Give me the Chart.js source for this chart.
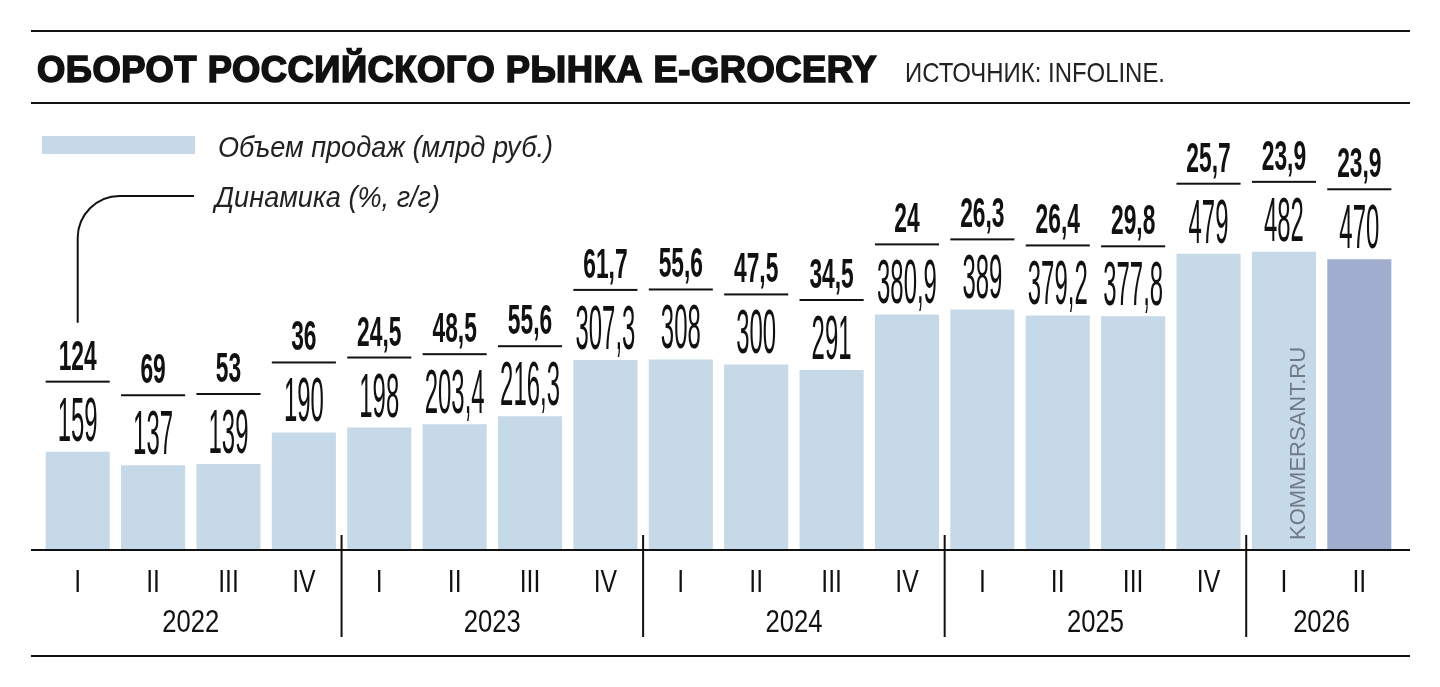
<!DOCTYPE html>
<html lang="ru">
<head>
<meta charset="UTF-8">
<title>Оборот российского рынка e-grocery</title>
<script src="https://cdn.jsdelivr.net/npm/chart.js@4.4.0/dist/chart.umd.min.js"></script>
<style>
  body { margin: 0; width: 1440px; height: 687px; overflow: hidden; position: relative; background: #fff;
         font-family: "Liberation Sans", Arial, sans-serif; color: #111; }
  #chart { position: absolute; left: 0; top: 0; }
  .rule { position: absolute; left: 31px; width: 1379px; height: 2px; background: #111; }
  .txt { position: absolute; white-space: nowrap; line-height: 1; transform-origin: 0 0; }
  #title { left: 37px; top: 52px; font-size: 36px; font-weight: 700; -webkit-text-stroke: 1.6px #111; letter-spacing: 0.5px; }
  #source { left: 905px; top: 59px; font-size: 28px; color: #222; }
  .legend { font-style: italic; font-size: 30px; color: #222; }
  #swatch { position: absolute; left: 42px; top: 136px; width: 153px; height: 18px; background: #c5d9e8; }
</style>
</head>
<body>
  <canvas id="chart" width="1440" height="687"></canvas>
  <div class="rule" style="top:30px"></div>
  <div class="rule" style="top:102px"></div>
  <div class="rule" style="top:655px"></div>
  <div id="title" class="txt" data-w="840">ОБОРОТ РОССИЙСКОГО РЫНКА E-GROCERY</div>
  <div id="source" class="txt" data-w="260">ИСТОЧНИК: INFOLINE.</div>
  <div id="swatch"></div>
  <div class="txt legend" style="left:218px; top:132px" data-w="335">Объем продаж (млрд руб.)</div>
  <div class="txt legend" style="left:215px; top:182px" data-w="225">Динамика (%, г/г)</div>

<script>
  // данные
  const quarters = ['I', 'II', 'III', 'IV', 'I', 'II', 'III', 'IV', 'I', 'II', 'III', 'IV', 'I', 'II', 'III', 'IV', 'I', 'II']
  const years = ['2022', '2022', '2022', '2022', '2023', '2023', '2023', '2023', '2024', '2024', '2024', '2024',
                 '2025', '2025', '2025', '2025', '2026', '2026']
  const sales = [159, 137, 139, 190, 198, 203.4, 216.3, 307.3, 308, 300, 291, 380.9, 389, 379.2, 377.8, 479, 482, 470]
  const growth = [124, 69, 53, 36, 24.5, 48.5, 55.6, 61.7, 55.6, 47.5, 34.5, 24, 26.3, 26.4, 29.8, 25.7, 23.9, 23.9]

  const LIGHT = '#c5d9e8'
  const DARK = '#a1aecf'
  const FONT = '"Liberation Sans", Arial, sans-serif'

  // сжатие текста по ширине
  document.querySelectorAll('.txt[data-w]').forEach(el => {
    const w = el.getBoundingClientRect().width
    el.style.transform = 'scaleX(' + (el.dataset.w / w) + ')'
  })

  const fmt = v => String(v).replace('.', ',')

  function narrowText(ctx, text, x, y, font, sx, align) {
    ctx.save()
    ctx.translate(x, y)
    ctx.scale(sx, 1)
    ctx.font = font
    ctx.textAlign = align || 'center'
    ctx.textBaseline = 'alphabetic'
    ctx.fillText(text, 0, 0)
    ctx.restore()
  }

  const labelsPlugin = {
    id: 'labels',
    afterDatasetsDraw(chart) {
      const ctx = chart.ctx
      const xs = chart.scales.x
      const ys = chart.scales.y
      const base = ys.getPixelForValue(0)
      const bars = chart.getDatasetMeta(0).data

      ctx.save()
      ctx.fillStyle = '#111'

      // подписи над столбцами
      bars.forEach((bar, i) => {
        const top = bar.y
        narrowText(ctx, fmt(sales[i]), bar.x, top - 11, '400 63px ' + FONT, 0.38)
        ctx.fillRect(bar.x - bar.width / 2, top - 71, bar.width, 2)
        narrowText(ctx, fmt(growth[i]), bar.x, top - 82, '700 43px ' + FONT, 0.53)
      })

      // выноска к легенде
      const b0 = bars[0]
      const lineTop = b0.y - 82 - 31 - 16
      ctx.strokeStyle = '#111'
      ctx.lineWidth = 2
      ctx.beginPath()
      ctx.moveTo(b0.x, lineTop)
      ctx.lineTo(b0.x, 238)
      ctx.arcTo(b0.x, 196, b0.x + 42, 196, 42)
      ctx.lineTo(194, 196)
      ctx.stroke()

      // ось
      ctx.fillRect(31, base - 1, 1379, 2)

      // кварталы
      bars.forEach((bar, i) => {
        narrowText(ctx, quarters[i], bar.x, base + 42, '400 31px ' + FONT, 0.8)
      })

      // годы и разделители
      const uniq = [...new Set(years)]
      uniq.forEach((yr, k) => {
        const idx = years.map((y, i) => y === yr ? i : -1).filter(i => i >= 0)
        const first = idx[0], last = idx[idx.length - 1]
        const cx = (xs.getPixelForValue(first) + xs.getPixelForValue(last)) / 2
        narrowText(ctx, yr, cx, base + 82, '400 32px ' + FONT, 0.8)
        if (k > 0) {
          const sep = (xs.getPixelForValue(first - 1) + xs.getPixelForValue(first)) / 2
          ctx.fillRect(sep - 1, base - 15, 2, 102)
        }
      })

      // водяной знак
      const wm = bars[16]
      ctx.save()
      ctx.translate(wm.x + 15, base - 10)
      ctx.rotate(-Math.PI / 2)
      ctx.font = '400 22px ' + FONT
      ctx.fillStyle = '#6f7a85'
      ctx.textAlign = 'left'
      ctx.textBaseline = 'middle'
      ctx.fillText('KOMMERSANT.RU', 0, 0)
      ctx.restore()

      ctx.restore()
    }
  }

  new Chart(document.getElementById('chart'), {
    type: 'bar',
    data: {
      labels: quarters.map((q, i) => q + ' ' + years[i]),
      datasets: [{
        label: 'Объем продаж (млрд руб.)',
        data: sales,
        backgroundColor: sales.map((v, i) => i === sales.length - 1 ? DARK : LIGHT),
        borderWidth: 0,
        barPercentage: 0.85,
        categoryPercentage: 1
      }]
    },
    options: {
      responsive: false,
      animation: false,
      layout: { padding: { left: 40, right: 43, top: 117, bottom: 137 } },
      plugins: { legend: { display: false }, tooltip: { enabled: false } },
      scales: {
        x: { display: false },
        y: { display: false, min: 0, max: 700 }
      }
    },
    plugins: [labelsPlugin]
  })
</script>
</body>
</html>
